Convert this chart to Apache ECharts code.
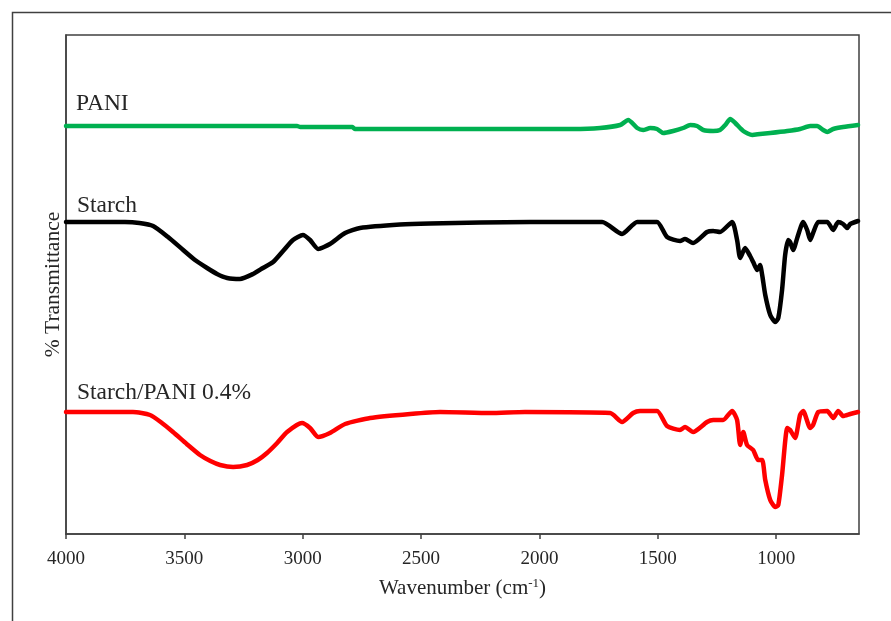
<!DOCTYPE html>
<html>
<head>
<meta charset="utf-8">
<script src="https://cdn.jsdelivr.net/npm/echarts@6/dist/echarts.min.js"></script>
<style>
html,body{margin:0;padding:0;background:#fff;}
#chart{width:891px;height:621px;}
</style>
</head>
<body>
<div id="chart"></div>
<script>
// Wavenumber ticks
const xTicks = [4000, 3500, 3000, 2500, 2000, 1500, 1000];

// PANI (green) — wavenumber / transmittance (arbitrary offset units)
const paniWn = [4000, 3024, 3010, 2790, 2780, 1858, 1744, 1659, 1625, 1587, 1562, 1532, 1503, 1477, 1435, 1393, 1363, 1334, 1308, 1266, 1237, 1215, 1194, 1173, 1139, 1101, 1068, 1025, 953, 899, 856, 827, 801, 784, 759, 717, 654];
const paniT  = [408, 408, 407, 407, 405, 405, 406, 409, 414, 406, 404, 406, 405, 401, 403, 406, 409, 408, 404, 403, 404, 409, 415, 411, 403, 399, 400, 401, 403, 405, 408, 408, 404, 402, 405, 407, 409];

// Starch (black)
const starchWn = [4000, 3814, 3751, 3690, 3632, 3569, 3505, 3455, 3404, 3362, 3319, 3265, 3210, 3168, 3125, 3083, 3041, 2999, 2969, 2935, 2885, 2821, 2758, 2589, 2462, 2039, 1735, 1651, 1587, 1503, 1461, 1406, 1385, 1351, 1292, 1266, 1237, 1186, 1165, 1152, 1131, 1110, 1097, 1080, 1068, 1059, 1046, 1025, 1004, 991, 975, 962, 949, 941, 928, 911, 886, 869, 856, 844, 822, 784, 759, 738, 717, 700, 687, 654];
const starchT  = [312, 312, 312, 311, 308, 297, 284, 274, 266, 260, 256, 255, 260, 266, 272, 283, 294, 299, 294, 285, 290, 301, 306, 309.5, 310.5, 312, 312, 300, 312, 312, 297, 293, 295, 291, 302, 303, 302, 312, 294, 276, 286, 278, 272, 264, 269, 259, 239, 219, 212, 216, 244, 279, 294, 292, 284, 296, 312, 304, 294, 301, 312, 312, 304, 312, 310, 306, 310, 313];

// Starch/PANI 0.4% (red)
const blendWn = [4000, 3717, 3645, 3600, 3548, 3490, 3434, 3390, 3349, 3294, 3235, 3190, 3151, 3108, 3066, 3003, 2969, 2935, 2885, 2821, 2715, 2546, 2420, 2208, 2061, 1701, 1651, 1604, 1575, 1503, 1461, 1406, 1385, 1351, 1292, 1266, 1224, 1186, 1165, 1152, 1139, 1123, 1097, 1076, 1059, 1046, 1025, 1004, 991, 975, 953, 941, 920, 899, 886, 856, 844, 822, 784, 759, 738, 717, 687, 654];
const blendT  = [122, 122, 119, 112, 102, 90, 79, 73, 69, 67, 69, 74, 81, 91, 102, 111, 106, 97, 101, 110, 116, 120, 122, 121, 122, 121, 112, 121, 123, 123, 108, 104, 107, 102, 112, 114, 114, 123, 114, 89, 102, 89, 84, 74, 74, 54, 34, 27, 29, 59, 106, 104, 96, 119, 123, 106, 109, 122, 123, 116, 123, 118, 120, 122];

const seriesNames = ['PANI', 'Starch', 'Starch/PANI 0.4%'];
const seriesColors = ['#00B050', '#000000', '#FF0000'];

function pairs(xs, ys) { return xs.map((x, i) => [x, ys[i]]); }

const chart = echarts.init(document.getElementById('chart'));
const font = 'Liberation Serif, Times New Roman, serif';
const txt = '#262626';
const axisCol = '#404040';

const dataSets = [pairs(paniWn, paniT), pairs(starchWn, starchT), pairs(blendWn, blendT)];

chart.setOption({
  animation: false,
  backgroundColor: '#fff',
  grid: { left: 66, top: 35, right: 32, bottom: 87, show: true, borderColor: axisCol, borderWidth: 1.5 },
  xAxis: {
    type: 'value', inverse: true, min: 650, max: 4000,
    name: 'Wavenumber (cm{sup|-1})',
    nameLocation: 'middle', nameGap: 43,
    nameTextStyle: { fontFamily: font, fontSize: 21, color: txt,
      rich: { sup: { fontFamily: font, fontSize: 13, color: txt, verticalAlign: 'top', padding: [0, 0, 10, 0] } } },
    axisLine: { show: true, lineStyle: { color: axisCol, width: 1.5 } },
    axisTick: { show: true, length: 5, inside: false, customValues: xTicks, lineStyle: { color: axisCol, width: 1.5 } },
    axisLabel: { customValues: xTicks, formatter: v => String(v), fontFamily: font, fontSize: 19, color: txt, margin: 16 },
    splitLine: { show: false }
  },
  yAxis: {
    type: 'value', min: 0, max: 499,
    name: '% Transmittance', nameLocation: 'middle', nameRotate: 90, nameGap: 2,
    nameTextStyle: { fontFamily: font, fontSize: 21.5, color: txt },
    axisLine: { show: true, lineStyle: { color: axisCol, width: 1.5 } },
    axisTick: { show: false }, axisLabel: { show: false }, splitLine: { show: false }
  },
  series: dataSets.map((d, i) => ({
    name: seriesNames[i], type: 'line', data: d, showSymbol: false, symbol: 'none',
    smooth: 0.2,
    lineStyle: { color: seriesColors[i], width: 4.5, join: 'round', cap: 'round' },
    z: 3
  })),
  graphic: [
    { type: 'rect', shape: { x: 12.5, y: 12.5, width: 900, height: 620 }, style: { fill: 'none', stroke: axisCol, lineWidth: 1.5 }, silent: true },
    { type: 'text', x: 76, y: 104, style: { text: seriesNames[0], font: '23.5px ' + font, fill: txt, verticalAlign: 'middle' } },
    { type: 'text', x: 77, y: 206, style: { text: seriesNames[1], font: '23.5px ' + font, fill: txt, verticalAlign: 'middle' } },
    { type: 'text', x: 77, y: 393, style: { text: seriesNames[2], font: '23.5px ' + font, fill: txt, verticalAlign: 'middle' } }
  ]
});
</script>
</body>
</html>
